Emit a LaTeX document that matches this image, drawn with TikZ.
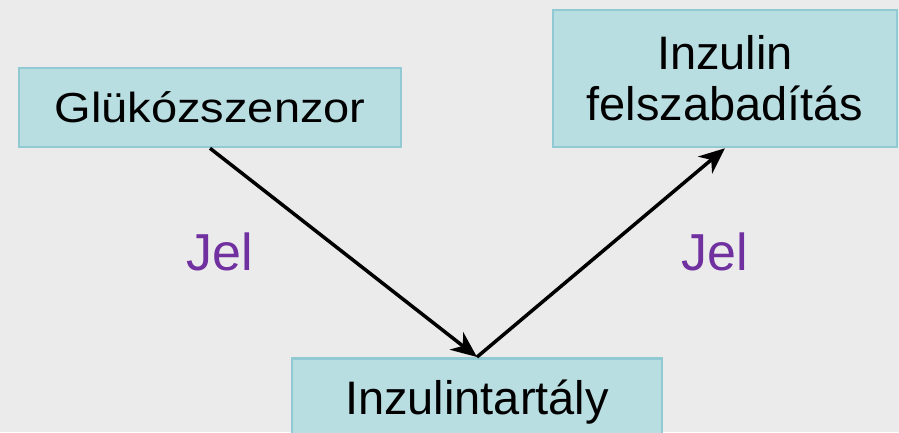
\documentclass[tikz,border=0pt]{standalone}
\usepackage{fontspec}
\usepackage{graphicx}
\setmainfont{Liberation Sans}
\usetikzlibrary{arrows.meta}
\definecolor{bgc}{RGB}{235,235,235}
\definecolor{boxfill}{RGB}{185,222,226}
\definecolor{boxline}{RGB}{145,202,210}
\definecolor{jelc}{RGB}{112,48,160}
\tikzset{
  box/.style={draw=boxline, fill=boxfill, line width=2.5pt, inner sep=0pt, align=center},
  boxtext/.style={font=\fontsize{47}{51}\selectfont},
  jel/.style={text=jelc, font=\fontsize{52}{60}\selectfont, anchor=base, inner sep=0pt},
  conn/.style={line width=3.5pt, -{Stealth[length=26pt, width=22pt, inset=8pt]}}
}
\begin{document}
\begin{tikzpicture}[x=1pt, y=-1pt]
\fill[bgc] (0,0) rectangle (899,432);
\useasboundingbox (0,0) rectangle (899,432);
\clip (0,0) rectangle (899,432);
\node[box, minimum width=382pt, minimum height=79pt, font=\fontsize{42}{48}\selectfont] (gs) at (210,107.5) {\scalebox{1.12}[1]{Glükózszenzor}};
\node[box, boxtext, minimum width=344pt, minimum height=137pt] (fs) at (725,78.5) {Inzulin\\felszabadítás};
\node[box, boxtext, minimum width=370pt, anchor=north, inner ysep=22pt, text height=34pt, text depth=60pt] (tank) at (477,357) {Inzulintartály};
\draw[conn] (gs.south) -- (tank.north);
\draw[conn] (tank.north) -- (fs.south);
\node[jel] (j1) at (220,270) {Jel};
\node[jel] (j2) at (715,270) {Jel};
\end{tikzpicture}
\end{document}
